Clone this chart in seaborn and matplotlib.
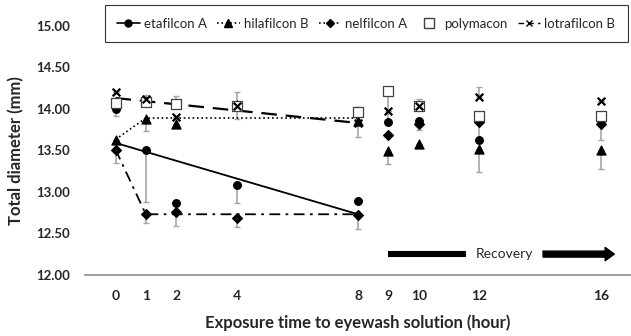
import matplotlib
matplotlib.use("Agg")
import matplotlib.pyplot as plt
from matplotlib.lines import Line2D
import seaborn as sns
import pandas as pd
import numpy as np

sns.set_style("white")
plt.rcParams['font.family'] = ['Lato', 'DejaVu Sans']

# ---- data ----
hours = [0, 1, 2, 4, 8, 9, 10, 12, 16]
tick_labels = ["0", "1", "2", "4", "8", "9", "10", "12", "16"]

etafilcon = [14.00, 13.50, 12.86, 13.08, 12.89, 13.84, 13.85, 13.63, 13.86]
hilafilcon = [13.63, 13.88, 13.82, 14.05, 13.85, 13.49, 13.58, 13.52, 13.51]
nelfilcon = [13.51, 12.73, 12.76, 12.68, 12.72, 13.69, 13.82, 13.84, 13.82]
polymacon = [14.07, 14.08, 14.06, 14.04, 13.96, 14.21, 14.04, 13.91, 13.91]
lotrafilcon = [14.20, 14.12, 13.90, 14.03, 13.83, 13.98, 14.04, 14.14, 14.10]

# one-sided error bars (lower, upper)
eta_err_lo = [0.08, 0.62, 0.00, 0.22, 0.00, 0.00, 0.00, 0.00, 0.00]
eta_err_hi = [0.00, 0.00, 0.00, 0.00, 0.00, 0.00, 0.00, 0.00, 0.00]
hila_err_lo = [0.00, 0.15, 0.00, 0.17, 0.19, 0.15, 0.00, 0.28, 0.24]
hila_err_hi = [0.00, 0.00, 0.00, 0.15, 0.00, 0.00, 0.00, 0.00, 0.00]
nel_err_lo = [0.16, 0.11, 0.17, 0.10, 0.17, 0.00, 0.08, 0.00, 0.20]
nel_err_hi = [0.00, 0.00, 0.00, 0.00, 0.00, 0.00, 0.00, 0.00, 0.00]
poly_err_lo = [0.00, 0.00, 0.00, 0.00, 0.00, 0.37, 0.00, 0.28, 0.00]
poly_err_hi = [0.00, 0.09, 0.10, 0.00, 0.06, 0.00, 0.08, 0.00, 0.00]
lotra_err_lo = [0.00, 0.00, 0.00, 0.00, 0.00, 0.00, 0.00, 0.00, 0.00]
lotra_err_hi = [0.00, 0.00, 0.00, 0.00, 0.00, 0.00, 0.00, 0.12, 0.00]

# trend lines during exposure
eta_trend_x = [0, 8]
eta_trend_y = [13.59, 12.73]
hila_trend_x = [0, 1, 8]
hila_trend_y = [13.63, 13.89, 13.89]
nel_trend_x = [0, 1, 8]
nel_trend_y = [13.51, 12.73, 12.73]
lotra_trend_x = [0, 8]
lotra_trend_y = [14.13, 13.83]

series_names = ["etafilcon A", "hilafilcon B", "nelfilcon A", "polymacon", "lotrafilcon B"]

# ---- figure ----
fig = plt.figure(figsize=(6.31, 3.36), dpi=100)
ax = fig.add_axes([0.135, 0.182, 0.865, 0.741])

errcol = "#a6a6a6"
series = [
    (etafilcon, eta_err_lo, eta_err_hi, "o", 5.5, "black", "black"),
    (hilafilcon, hila_err_lo, hila_err_hi, "^", 6.5, "black", "black"),
    (nelfilcon, nel_err_lo, nel_err_hi, "D", 5.0, "black", "black"),
    (polymacon, poly_err_lo, poly_err_hi, "s", 7.0, "white", "#404040"),
    (lotrafilcon, lotra_err_lo, lotra_err_hi, "x", 5.5, "black", "black"),
]

# error bars
for vals, lo, hi, *_ in series:
    ax.errorbar(hours, vals, yerr=[lo, hi], fmt="none", ecolor=errcol,
                elinewidth=1.2, capsize=2.5, capthick=1.0, zorder=2)

# trend lines via seaborn
trend_df = [
    (eta_trend_x, eta_trend_y, "-", 1.3),
    (hila_trend_x, hila_trend_y, ":", 1.2),
    (nel_trend_x, nel_trend_y, (0, (6, 3, 1.5, 3)), 1.3),
    (lotra_trend_x, lotra_trend_y, (0, (7, 4)), 1.6),
]
for tx, ty, ls, lw in trend_df:
    d = pd.DataFrame({"x": tx, "y": ty})
    sns.lineplot(data=d, x="x", y="y", ax=ax, color="black", linewidth=lw,
                 linestyle=ls, zorder=3, legend=False)

# markers via seaborn
for (vals, lo, hi, mk, ms, fc, ec) in series:
    d = pd.DataFrame({"x": hours, "y": vals})
    if mk == "x":
        sns.scatterplot(data=d, x="x", y="y", ax=ax, marker="x", s=ms**2,
                        color="black", linewidth=1.6, zorder=5, legend=False)
    else:
        sns.scatterplot(data=d, x="x", y="y", ax=ax, marker=mk, s=ms**2,
                        facecolor=fc, edgecolor=ec, linewidth=0.9, zorder=4,
                        legend=False)

ax.set_xlim(-1, 17)
ax.set_ylim(12, 15)
ax.set_xticks(hours)
ax.set_xticklabels(tick_labels, fontweight="bold", fontsize=10)
ax.set_yticks(np.arange(12, 15.01, 0.5))
ax.set_yticklabels([f"{v:.2f}" for v in np.arange(12, 15.01, 0.5)],
                   fontweight="bold", fontsize=9.5)
ax.tick_params(axis="both", length=0)
ax.tick_params(axis="y", pad=11)
ax.tick_params(axis="x", pad=11)

for s in ["top", "right", "left"]:
    ax.spines[s].set_visible(False)
ax.spines["bottom"].set_color("#8c8c8c")
ax.spines["bottom"].set_linewidth(1.2)

ax.set_xlabel("Exposure time to eyewash solution (hour)", fontweight="bold",
              fontsize=12, labelpad=9)
ax.set_ylabel("Total diameter (mm)", fontweight="bold", fontsize=12, labelpad=6)
ax.yaxis.set_label_coords(-0.112, 0.5)

# recovery arrow
ax.plot([9, 11.57], [12.25, 12.25], color="black", linewidth=4.4,
        solid_capstyle="butt", zorder=3)
ax.text(12.83, 12.25, "Recovery", ha="center", va="center", fontsize=10)
ax.annotate("", xy=(16.45, 12.25), xytext=(14.1, 12.25),
            arrowprops=dict(arrowstyle="simple,tail_width=0.36,head_width=0.8,head_length=0.55",
                            mutation_scale=12, color="black", shrinkA=0, shrinkB=0))

# legend
handles = [
    Line2D([], [], color="black", linestyle="-", linewidth=1.2, marker="o", markersize=5),
    Line2D([], [], color="black", linestyle=":", linewidth=1.2, marker="^", markersize=5.5),
    Line2D([], [], color="black", linestyle=":", linewidth=1.2, marker="D", markersize=4),
    Line2D([], [], color="none", marker="s", markersize=6.5, markerfacecolor="white",
           markeredgecolor="#404040", linestyle="none"),
    Line2D([], [], color="black", linestyle=(0, (4, 3)), linewidth=1.0, marker="x", markersize=5),
]
leg = fig.legend(handles, series_names, loc="upper left", ncol=5,
                 bbox_to_anchor=(0.166, 0.985), frameon=True, fancybox=False,
                 edgecolor="black", fontsize=9.5, handlelength=1.7,
                 handletextpad=0.3, columnspacing=0.8, borderpad=0.95,
                 borderaxespad=0)
leg.get_frame().set_linewidth(0.8)

fig.savefig("out.png", dpi=100)
